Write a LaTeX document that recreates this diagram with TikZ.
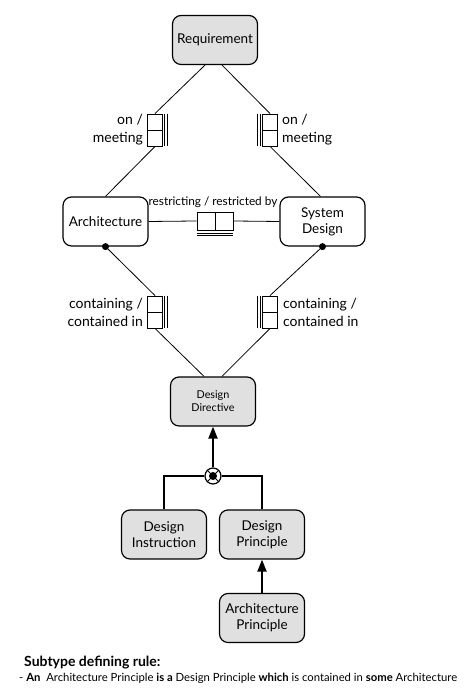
\documentclass[tikz,border=0pt]{standalone}
\usepackage{fontspec}
\setmainfont{Lato}
\usetikzlibrary{arrows.meta}
\begin{document}
\begin{tikzpicture}[x=1pt, y=1pt,
    object/.style={rectangle, draw, line width=1.2pt, rounded corners=3mm,
        minimum width=85pt, minimum height=49pt, align=center,
        font=\fontsize{13.5}{16}\selectfont},
    shaded/.style={object, fill=black!12},
    vrole/.style={rectangle, draw, line width=0.9pt, minimum width=15pt,
        minimum height=32pt, inner sep=0pt},
    hrole/.style={rectangle, draw, line width=0.9pt, minimum width=36pt,
        minimum height=18pt, inner sep=0pt},
    rolename/.style={align=left, inner sep=0pt, font=\fontsize{14}{18}\selectfont},
    link/.style={line width=0.8pt},
    subtype/.style={line width=2pt},
    dot/.style={circle, fill, inner sep=0pt, minimum size=7pt}
]
\useasboundingbox (0,0) rectangle (474,692);

% object types
\node (Requirement) [shaded] at (215,652) {Requirement};
\node (Architecture) [object, fill=white] at (105.5,470.5) {Architecture};
\node (SystemDesign) [object, fill=white] at (322.5,470.5) {System\\Design};
\node (DesignDirective) [shaded, font=\fontsize{10.8}{13}\selectfont] at (213,290.5) {Design\\Directive};
\node (DesignInstruction) [shaded] at (164,157.5) {Design\\Instruction};
\node (DesignPrinciple) [shaded] at (262,157.5) {Design\\Principle};
\node (ArchPrinciple) [shaded] at (262,74) {Architecture\\Principle};

% fact types
\node (Role01) [vrole] at (155,562) {};
\node (Role02) [vrole] at (270,562) {};
\node (Role03) [hrole] at (215,471) {};
\node (Role04) [vrole] at (155,380) {};
\node (Role05) [vrole] at (270,380) {};

\foreach \r in {Role01,Role04} {
  \draw[link] (\r.west) -- (\r.east);
  \draw[line width=1pt] ([xshift=2pt]\r.north east) -- ([xshift=2pt]\r.south east);
  \draw[line width=1pt] ([xshift=4.5pt]\r.north east) -- ([xshift=4.5pt]\r.south east);
}
\foreach \r in {Role02,Role05} {
  \draw[link] (\r.west) -- (\r.east);
  \draw[line width=1pt] ([xshift=-2pt]\r.north west) -- ([xshift=-2pt]\r.south west);
  \draw[line width=1pt] ([xshift=-4.5pt]\r.north west) -- ([xshift=-4.5pt]\r.south west);
}
\draw[link] (Role03.north) -- (Role03.south);
\draw[line width=1pt] ([yshift=-3pt]Role03.south west) -- ([yshift=-3pt]Role03.south east);
\draw[line width=1pt] ([yshift=-5.5pt]Role03.south west) -- ([yshift=-5.5pt]Role03.south east);

% role names
\node (Name01) [rolename, align=right, anchor=east] at ([xshift=-4pt]Role01.west) {on /\\meeting};
\node (Name02) [rolename, anchor=west] at ([xshift=4pt]Role02.east) {on /\\meeting};
\node (Name03) [rolename, align=center, anchor=south, font=\fontsize{11.8}{13}\selectfont] at (213,484) {restricting / restricted by};
\node (Name04) [rolename, align=right, anchor=east] at ([xshift=-4pt]Role04.west) {containing /\\contained in};
\node (Name05) [rolename, anchor=west] at ([xshift=5pt]Role05.east) {containing /\\contained in};

% connectors
\draw[link] ([xshift=-10pt]Requirement.south) -- (Role01.north);
\draw[link] (Role01.south) -- (Architecture.north);
\draw[link] ([xshift=7pt]Requirement.south) -- (Role02.north);
\draw[link] (Role02.south) -- ([xshift=-2pt]SystemDesign.north);
\draw[link] (Architecture.east) -- (Role03.west);
\draw[link] (Role03.east) -- (SystemDesign.west);
\draw[link] (Architecture.south) -- (Role04.north);
\draw[link] (Role04.south) -- ([xshift=-9pt]DesignDirective.north);
\draw[link] (SystemDesign.south) -- (Role05.north);
\draw[link] (Role05.south) -- ([xshift=9pt]DesignDirective.north);
\node (Dot01) [dot] at (Architecture.south) {};
\node (Dot02) [dot] at (SystemDesign.south) {};

% subtypes
\node (Xor) [circle, draw, fill=white, line width=1.2pt, minimum size=16pt, inner sep=0pt] at (213,216) {};
\draw[line width=1pt] (Xor.north east) -- (Xor.south west);
\draw[line width=1pt] (Xor.north west) -- (Xor.south east);
\fill (Xor.center) circle (4pt);
\draw[subtype] (DesignInstruction.north) |- (Xor.west);
\draw[subtype] (DesignPrinciple.north) |- (Xor.east);
\draw[subtype, -{Triangle[length=12pt, width=9pt]}] (Xor.north) -- (DesignDirective.south);
\draw[subtype, -{Triangle[length=12pt, width=9pt]}] (ArchPrinciple.north) -- (DesignPrinciple.south);

% rule
\node (RuleTitle) [anchor=base west, inner sep=0pt, font=\bfseries\fontsize{14}{16}\selectfont] at (24,25) {Subtype defining rule:};
\node (RuleText) [anchor=base west, inner sep=0pt, font=\fontsize{11.3}{13}\selectfont] at (19,10)
  {- \textbf{An}\ \ Architecture Principle \textbf{is a} Design Principle \textbf{which} is contained in \textbf{some} Architecture};
\end{tikzpicture}
\end{document}
